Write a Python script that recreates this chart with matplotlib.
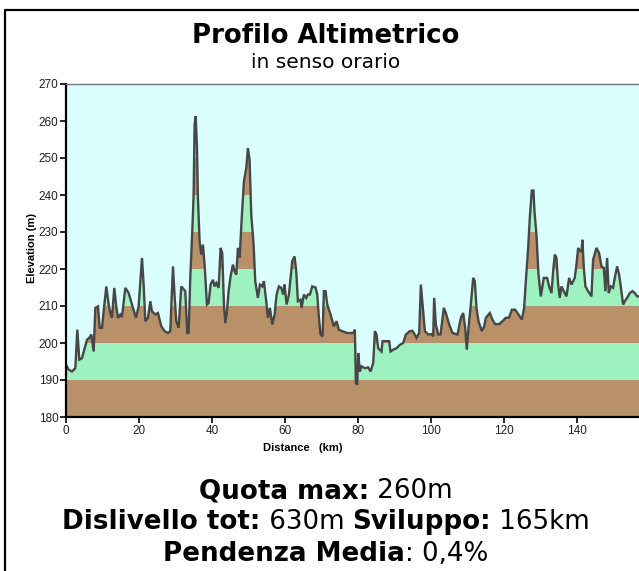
#!/usr/bin/env python3
"""
Profilo altimetrico - elevation profile with 10 m colour bands
"""

import numpy as np
import matplotlib
matplotlib.use('Agg')
import matplotlib.pyplot as plt
from matplotlib.patches import Polygon
from matplotlib.lines import Line2D

# profile (km, m)
distance_km = [
    0.0, 0.27, 0.73, 1.64, 2.56, 3.10, 3.65, 4.38, 5.75, 6.39, 6.94, 7.58, 8.04, 8.77,
    9.22, 9.86, 10.32, 11.05, 11.69, 12.15, 12.60, 13.24, 13.70, 14.25, 14.89, 15.34,
    16.26, 17.17, 18.08, 19.18, 19.91, 20.82, 21.28, 21.74, 22.47, 23.11, 23.56, 24.47,
    25.21, 26.12, 27.03, 27.95, 28.58, 29.32, 29.77, 30.23, 30.87, 31.60, 32.33, 32.69,
    33.24, 33.61, 34.06, 34.61, 34.98, 35.25, 35.53, 35.89, 36.16, 36.62, 37.08, 37.53,
    37.99, 38.63, 39.09, 39.63, 40.27, 40.73, 41.19, 41.83, 42.37, 42.83, 43.29, 43.65,
    44.11, 44.57, 45.11, 45.75, 46.21, 46.67, 47.12, 47.58, 48.22, 48.77, 49.41, 49.86,
    50.32, 50.78, 51.42, 51.87, 52.60, 53.15, 53.79, 54.25, 54.98, 55.34, 55.89, 56.53,
    57.17, 57.72, 58.36, 58.99, 59.54, 59.91, 60.46, 61.10, 61.55, 62.01, 62.65, 63.11,
    63.56, 64.29, 64.57, 65.21, 65.85, 66.30, 66.85, 67.49, 68.40, 68.86, 69.32, 69.77,
    70.32, 70.68, 71.14, 71.60, 72.51, 73.42, 74.16, 74.79, 75.71, 77.08, 78.72, 79.18,
    79.45, 79.82, 80.09, 80.55, 81.00, 81.92, 82.83, 83.47, 84.20, 84.66, 85.11, 85.57,
    86.48, 86.76, 88.58, 88.95, 89.68, 90.59, 91.51, 92.42, 93.15, 94.25, 94.89, 95.34,
    96.07, 96.80, 97.26, 97.72, 98.36, 99.27, 100.18, 100.64, 100.91, 101.37, 102.01,
    102.65, 103.56, 104.11, 105.02, 105.94, 107.31, 108.22, 108.86, 109.41, 109.86,
    110.32, 110.96, 111.60, 112.05, 112.51, 113.06, 113.97, 114.61, 115.07, 116.16,
    116.89, 117.63, 118.72, 119.63, 120.55, 121.46, 122.19, 123.11, 124.02, 124.93,
    125.57, 126.03, 126.67, 127.12, 127.67, 128.13, 128.40, 128.95, 129.50, 130.14,
    130.96, 131.87, 132.42, 133.06, 133.52, 133.97, 134.43, 134.89, 135.34, 135.80,
    136.44, 137.17, 137.90, 138.54, 139.45, 139.91, 140.37, 140.82, 141.28, 141.55,
    141.92, 142.37, 143.10, 144.02, 144.47, 145.39, 146.12, 146.76, 147.40, 147.85,
    148.31, 148.77, 149.32, 149.95, 150.41, 151.05, 151.60, 152.05, 152.69, 153.15,
    153.79, 154.52, 155.25, 155.89, 156.53, 157.50,
]
elevation_m = [
    194.0, 193.7, 192.8, 192.3, 193.2, 203.6, 195.5, 195.9, 200.9, 201.4, 202.3, 197.7,
    209.5, 209.9, 204.1, 204.1, 208.6, 215.3, 210.4, 208.1, 206.8, 214.9, 210.4, 206.8,
    207.7, 207.0, 214.9, 213.5, 210.4, 206.8, 209.9, 223.0, 215.8, 205.9, 206.8, 211.3,
    208.6, 207.7, 208.1, 204.5, 203.2, 202.7, 203.2, 220.7, 212.6, 205.9, 204.1, 215.3,
    214.4, 214.0, 202.7, 202.7, 217.6, 230.2, 240.1, 259.0, 261.3, 253.2, 239.2, 227.5,
    223.9, 226.6, 221.2, 210.4, 210.8, 215.8, 217.1, 215.3, 216.2, 214.9, 225.7, 224.3,
    210.4, 205.4, 208.6, 214.0, 218.0, 221.2, 219.4, 218.5, 225.7, 223.0, 234.7, 243.7,
    247.3, 252.7, 249.5, 234.7, 226.6, 216.7, 212.2, 215.8, 215.3, 216.7, 210.4, 206.8,
    209.5, 205.0, 207.7, 213.1, 215.3, 214.9, 213.1, 215.8, 210.4, 213.1, 217.6, 222.1,
    223.4, 219.4, 211.3, 211.7, 209.5, 213.1, 212.2, 213.1, 213.1, 215.3, 215.0, 213.1,
    206.8, 202.3, 201.8, 214.0, 214.0, 210.4, 207.7, 204.5, 205.9, 203.6, 203.2, 202.7,
    202.7, 203.6, 189.2, 188.7, 197.3, 192.3, 193.7, 193.2, 193.4, 192.3, 194.6, 203.2,
    202.3, 198.6, 197.7, 200.5, 200.5, 197.7, 198.2, 198.6, 199.5, 200.0, 202.3, 203.2,
    203.3, 202.7, 201.4, 202.7, 215.8, 210.4, 203.2, 202.3, 202.4, 201.8, 212.2, 205.0,
    202.3, 202.3, 209.5, 208.1, 205.0, 202.7, 202.3, 206.8, 208.1, 204.1, 198.2, 204.1,
    210.4, 217.6, 216.7, 209.5, 205.9, 203.2, 204.5, 206.8, 208.1, 206.3, 205.1, 205.1,
    205.9, 206.8, 206.9, 209.0, 209.0, 207.7, 206.3, 209.5, 216.7, 225.7, 233.8, 241.2,
    241.2, 235.6, 229.3, 218.5, 212.6, 217.6, 217.6, 215.3, 213.5, 219.4, 223.9, 223.0,
    215.8, 212.2, 215.3, 214.0, 212.6, 217.6, 215.8, 217.6, 221.2, 225.7, 224.8, 224.8,
    227.9, 220.3, 215.3, 214.0, 212.6, 222.5, 225.7, 224.3, 220.7, 220.3, 214.0, 223.0,
    213.5, 215.3, 214.9, 217.6, 220.7, 218.5, 215.3, 210.4, 211.3, 212.2, 213.5, 214.0,
    213.5, 212.6, 212.6,
]

y_ticks = [180, 190, 200, 210, 220, 230, 240, 250, 260, 270]
x_ticks = [0, 20, 40, 60, 80, 100, 120, 140]

title = 'Profilo Altimetrico'
subtitle = 'in senso orario'
stats_lines = [
    [('Quota max:', 'bold'), (' 260m', 'normal')],
    [('Dislivello tot:', 'bold'), (' 630m ', 'normal'), ('Sviluppo:', 'bold'), (' 165km', 'normal')],
    [('Pendenza Media', 'bold'), (': 0,4%', 'normal')],
]

SKY = '#dbffff'
BROWN = '#b89169'
GREEN = '#9df2bf'
LINE = '#474747'

W, H = 639, 571


def mixed_line(fig, y_px, parts, size):
    """Draw bold/normal runs side by side, centred as a whole"""
    renderer = fig.canvas.get_renderer()
    texts = []
    widths = []
    for s, weight in parts:
        t = fig.text(0, 1 - y_px / H, s.replace(' ', '\u00a0'), fontsize=size,
                     fontweight=weight, family='DejaVu Sans', ha='left', va='baseline')
        texts.append(t)
        widths.append(t.get_window_extent(renderer).width)
    x = 326 - sum(widths) / 2
    for t, w in zip(texts, widths):
        t.set_x(x / W)
        x += w


fig = plt.figure(figsize=(W / 100, H / 100), dpi=100)
fig.patch.set_facecolor('white')

# frame around the picture
fig.add_artist(Line2D([5 / W, 5 / W, 1.0], [0.0, 1 - 10 / H, 1 - 10 / H],
                      color='black', lw=1.6, transform=fig.transFigure))

ax = fig.add_axes([66 / W, 154 / H, 602 / W, 333 / H])
ax.set_facecolor(SKY)
ax.set_xlim(0, 165)
ax.set_ylim(180, 270)

# area under the profile, cut into 10 m bands
dist = np.array(distance_km)
elev = np.array(elevation_m)
verts = np.column_stack([np.r_[dist, dist[-1], dist[0]], np.r_[elev, 180, 180]])
area = Polygon(verts, closed=True, facecolor='none', edgecolor='none')
ax.add_patch(area)
for i in range(len(y_ticks) - 1):
    band = ax.axhspan(y_ticks[i], y_ticks[i + 1], color=BROWN if i % 2 == 0 else GREEN, lw=0)
    band.set_clip_path(area)

ax.plot(dist, elev, color=LINE, lw=1.7, solid_joinstyle='miter')

ax.set_yticks(y_ticks)
ax.set_xticks(x_ticks)
ax.tick_params(direction='out', length=4, width=1.2, labelsize=8.5, colors='black',
               labelcolor='#222222', pad=1.5)
for lab in ax.get_xticklabels() + ax.get_yticklabels():
    lab.set_family('Liberation Sans')
for side in ['left', 'bottom']:
    ax.spines[side].set_linewidth(1.6)
ax.spines['top'].set_color('#777777')
ax.spines['top'].set_linewidth(1.0)
ax.spines['right'].set_visible(False)

fig.text(32 / W, 1 - 248 / H, 'Elevation (m)', rotation=90, ha='center', va='center',
         fontsize=8, fontweight='bold', family='Liberation Sans')
fig.text(303 / W, 1 - 448 / H, 'Distance   (km)', ha='center', va='center',
         fontsize=8, fontweight='bold', family='Liberation Sans')

fig.text(326 / W, 1 - 43 / H, title, ha='center', va='baseline', fontsize=18.7,
         fontweight='bold', family='DejaVu Sans')
fig.text(326 / W, 1 - 68 / H, subtitle, ha='center', va='baseline', fontsize=14.5,
         family='DejaVu Sans')

for y_px, parts in zip([498, 529, 561], stats_lines):
    mixed_line(fig, y_px, parts, 18.8)

fig.savefig('out.png', dpi=100)
